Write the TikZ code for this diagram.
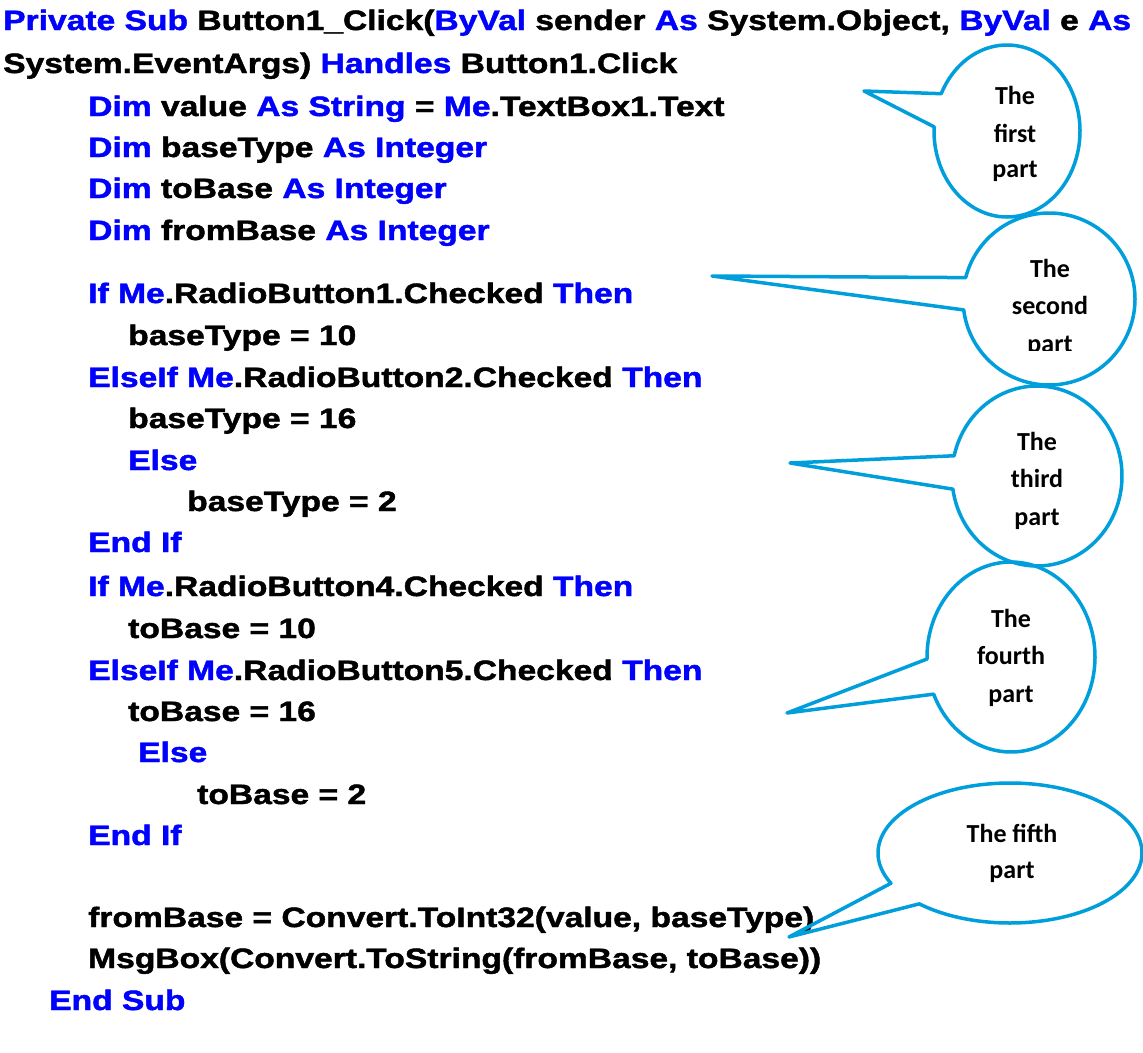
\documentclass[tikz,border=0pt]{standalone}
\usepackage{fontspec}
\newfontfamily\codefont[FakeStretch=1.2,FakeBold=1.6]{Liberation Sans}
\newfontfamily\callfont{Carlito}
\definecolor{kwblue}{RGB}{0,0,255}
\definecolor{bubblue}{RGB}{0,158,219}
\newcommand\kw[1]{\textcolor{kwblue}{#1}}
\tikzset{
  code/.style={anchor=base west, inner sep=0pt, font=\codefont\bfseries\fontsize{28}{34}\selectfont},
  ctext/.style={anchor=base, inner sep=0pt, font=\callfont\bfseries\fontsize{26}{30}\selectfont},
  bub/.style={draw=bubblue, line width=3.5pt, line join=round}
}
\begin{document}
\begin{tikzpicture}[x=1pt,y=-1pt]
\useasboundingbox (0,0) rectangle (1143,1052);
% code
\node[code] (l1) at (3,30) {\kw{Private Sub} Button1\_Click(\kw{ByVal} sender \kw{As} System.Object, \kw{ByVal} e \kw{As}};
\node[code] (l2) at (3,73) {System.EventArgs) \kw{Handles} Button1.Click};
\node[code] (l3) at (88,116) {\kw{Dim} value \kw{As String} = \kw{Me}.TextBox1.Text};
\node[code] (l4) at (88,157) {\kw{Dim} baseType \kw{As Integer}};
\node[code] (l5) at (88,198) {\kw{Dim} toBase \kw{As Integer}};
\node[code] (l6) at (88,240) {\kw{Dim} fromBase \kw{As Integer}};
\node[code] (l7) at (88,303) {\kw{If Me}.RadioButton1.Checked \kw{Then}};
\node[code] (l8) at (128,345) {baseType = 10};
\node[code] (l9) at (88,387) {\kw{ElseIf Me}.RadioButton2.Checked \kw{Then}};
\node[code] (l10) at (128,428) {baseType = 16};
\node[code] (l11) at (128,470) {\kw{Else}};
\node[code] (l12) at (187,511) {baseType = 2};
\node[code] (l13) at (88,552) {\kw{End If}};
\node[code] (l14) at (88,596) {\kw{If Me}.RadioButton4.Checked \kw{Then}};
\node[code] (l15) at (128,638) {toBase = 10};
\node[code] (l16) at (88,680) {\kw{ElseIf Me}.RadioButton5.Checked \kw{Then}};
\node[code] (l17) at (128,721) {toBase = 16};
\node[code] (l18) at (138,762) {\kw{Else}};
\node[code] (l19) at (197,804) {toBase = 2};
\node[code] (l20) at (88,845) {\kw{End If}};
\node[code] (l21) at (88,927) {fromBase = Convert.ToInt32(value, baseType)};
\node[code] (l22) at (88,968) {MsgBox(Convert.ToString(fromBase, toBase))};
\node[code] (l23) at (49,1010) {\kw{End Sub}};
% bubbles
\coordinate (tip1) at (864,91);
\coordinate (tip2) at (712,276);
\coordinate (tip3) at (790,463);
\coordinate (tip4) at (787,713);
\coordinate (tip5) at (789,937);
\draw[bub] plot[domain=205.7:542.8,samples=150,variable=\t] ({1007+73*cos(\t)},{131+86*sin(\t)}) -- (tip1) -- cycle;
\draw[bub] plot[domain=194.4:532.7,samples=150,variable=\t] ({1049+86*cos(\t)},{299+86*sin(\t)}) -- (tip2) -- cycle;
\draw[bub] plot[domain=193:531.6,samples=150,variable=\t] ({1037+85*cos(\t)},{476+90*sin(\t)}) -- (tip3) -- cycle;
\draw[bub] plot[domain=178.8:517,samples=150,variable=\t] ({1011+84*cos(\t)},{657+95*sin(\t)}) -- (tip4) -- cycle;
\draw[bub] plot[domain=154.4:493.4,samples=150,variable=\t] ({1010+132*cos(\t)},{853+70*sin(\t)}) -- (tip5) -- cycle;
% bubble texts
\node[ctext] (b1a) at (1015,104) {The};
\node[ctext] (b1b) at (1015,142) {first};
\begin{scope}
\clip (960,150) rectangle (1070,181);
\node[ctext] (b1c) at (1015,177) {part};
\end{scope}
\node[ctext] (b2a) at (1050,277) {The};
\node[ctext] (b2b) at (1050,314) {second};
\begin{scope}
\clip (990,320) rectangle (1110,350);
\node[ctext] (b2c) at (1050,352) {part};
\end{scope}
\node[ctext] (b3a) at (1037,450) {The};
\node[ctext] (b3b) at (1037,487) {third};
\node[ctext] (b3c) at (1037,525) {part};
\node[ctext] (b4a) at (1011,627) {The};
\node[ctext] (b4b) at (1011,664) {fourth};
\node[ctext] (b4c) at (1011,702) {part};
\node[ctext] (b5a) at (1012,842) {The fifth};
\node[ctext] (b5b) at (1012,878) {part};
\end{tikzpicture}
\end{document}
